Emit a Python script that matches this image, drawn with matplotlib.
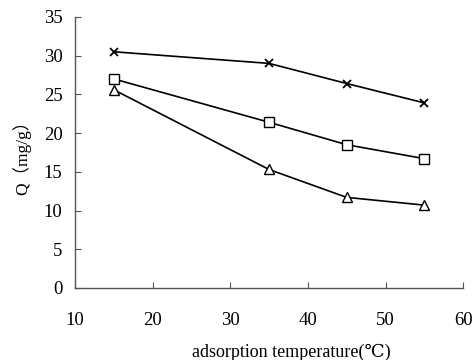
import matplotlib
matplotlib.use("Agg")
import matplotlib.pyplot as plt

temps = [15, 35, 45, 55]
q_cross = [30.5, 29.0, 26.4, 23.9]
q_square = [27.0, 21.4, 18.5, 16.7]
q_triangle = [25.6, 15.3, 11.7, 10.7]
xticks = [10, 20, 30, 40, 50, 60]
yticks = [0, 5, 10, 15, 20, 25, 30, 35]

plt.rcParams['font.family'] = ['Liberation Serif', 'DejaVu Serif']

fig = plt.figure(figsize=(4.77, 3.6), dpi=100)
ax = fig.add_axes([0.157, 0.2, 0.814, 0.753])

ax.plot(temps, q_cross, color='black', lw=1.2, marker='x', ms=6, mew=1.3)
ax.plot(temps, q_square, color='black', lw=1.2, marker='s', ms=6.5, mfc='white', mew=1.0)
ax.plot(temps, q_triangle, color='black', lw=1.2, marker='^', ms=6.5, mfc='white', mew=1.0)

ax.set_xlim(10, 60)
ax.set_ylim(0, 35)
ax.set_xticks(xticks)
ax.set_yticks(yticks)
ax.tick_params(direction='in', length=4, width=0.8, color='#555555', labelsize=13.5)
ax.tick_params(axis='y', pad=9)
ax.tick_params(axis='x', pad=17)
for s in ['top', 'right']:
    ax.spines[s].set_visible(False)
for s in ['left', 'bottom']:
    ax.spines[s].set_color('#555555')
    ax.spines[s].set_linewidth(1.0)

fig.text(291 / 477, 1 - 352 / 360, 'adsorption temperature(℃)', fontsize=13,
         ha='center', va='center')
fig.text(22 / 477, 1 - 153 / 360, 'Q（mg/g）', fontsize=12.5, rotation=90,
         ha='center', va='center', family=['Liberation Serif', 'Noto Sans CJK SC'])

fig.savefig('out.png', dpi=100)
